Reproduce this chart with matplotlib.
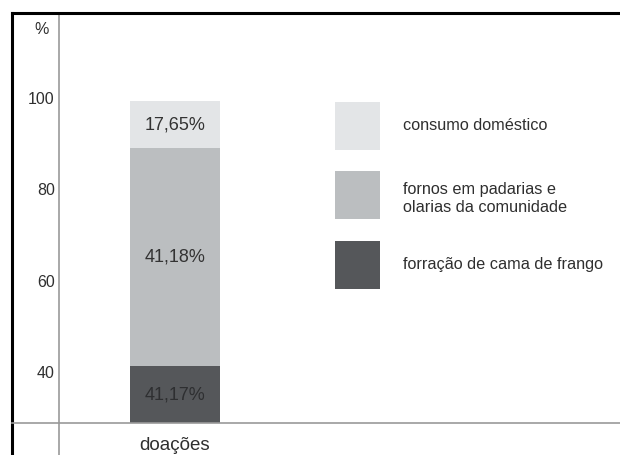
import matplotlib
matplotlib.use("Agg")
import matplotlib.pyplot as plt
from matplotlib.lines import Line2D
from matplotlib.patches import Rectangle

plt.rcParams['font.family'] = ['Liberation Sans', 'DejaVu Sans']

# ---- data ----
categories = ['doações']
series_names = ['forração de cama de frango',
                'fornos em padarias e\nolarias da comunidade',
                'consumo doméstico']
series_labels = ['41,17%', '41,18%', '17,65%']
axis_base = 28.8                     # where the x axis crosses the y scale
series_heights = [12.5, 47.7, 10.3]  # drawn heights
series_colors = ['#55575a', '#bbbec0', '#e3e5e7']
label_colors = ['#2e2f31', '#333333', '#333333']
y_ticks = [40, 60, 80, 100]

W, H = 620, 455
fig = plt.figure(figsize=(W / 100, H / 100), dpi=100)
fig.patch.set_facecolor('white')

ax_left, ax_top = 59, 13
ax = fig.add_axes([ax_left / W, 0, 1 - ax_left / W, (H - ax_top) / H])

px_per_unit = 274 / 60.0
ymax = 40 + (372 - ax_top) / px_per_unit
ymin = 40 - (H - 372) / px_per_unit
ax.set_ylim(ymin, ymax)
bar_px = 90
center_px = 175
ax.set_xlim(-(center_px - ax_left) / bar_px, (W - center_px) / bar_px)

txt = '#2f2f2f'

# stacked bar
bottom = axis_base
for h, c, lab, lc in zip(series_heights, series_colors, series_labels, label_colors):
    ax.bar(0, h, bottom=bottom, width=1.0, color=c, edgecolor='none', zorder=2)
    ax.text(0, bottom + h / 2, lab, ha='center', va='center', fontsize=13,
            color=lc, zorder=3)
    bottom += h

# axes styling
gray = '#9a9a9a'
for s in ['top', 'right']:
    ax.spines[s].set_visible(False)
ax.spines['left'].set_color(gray)
ax.spines['left'].set_linewidth(1.2)
ax.spines['bottom'].set_color(gray)
ax.spines['bottom'].set_linewidth(1.2)
ax.spines['bottom'].set_position(('data', axis_base))

ax.set_yticks(y_ticks)
ax.set_yticklabels([str(t) for t in y_ticks])
ax.set_xticks([0])
ax.set_xticklabels(categories)
ax.tick_params(axis='y', length=0, pad=3, labelsize=11.5, labelcolor=txt)
ax.tick_params(axis='x', length=0, pad=10, labelsize=13.5, labelcolor=txt)

ax.text(-0.019, 114.9, '%', transform=ax.get_yaxis_transform(), ha='right',
        va='center', fontsize=11.5, color=txt)

# legend (drawn as boxes + labels in figure pixels)
def fx(px):
    return px / W

def fy(py):
    return (H - py) / H

box_x, box_w, box_h = 335, 45, 48
box_tops = [101.7, 171, 241]
for top, name, col in zip(box_tops, series_names[::-1], series_colors[::-1]):
    fig.add_artist(Rectangle((fx(box_x), fy(top + box_h)), box_w / W, box_h / H,
                             transform=fig.transFigure, facecolor=col,
                             edgecolor='none'))
    lines = name.split('\n')
    cy = top + box_h / 2
    if len(lines) == 1:
        base = [cy + 4.5]
    else:
        base = [cy - 1, cy + 17]
    for ln, b in zip(lines, base):
        fig.text(fx(403), fy(b), ln, ha='left', va='baseline', fontsize=11.7,
                 color=txt)

# frame lines and axis extensions
fig.add_artist(Line2D([12 / W, 1], [(H - 13) / H] * 2, color='black', lw=2.2,
                      transform=fig.transFigure))
fig.add_artist(Line2D([12 / W] * 2, [0, (H - 13) / H], color='black', lw=2.2,
                      transform=fig.transFigure))
ya = (H - 423) / H
fig.add_artist(Line2D([12 / W, ax_left / W], [ya, ya], color=gray, lw=1.2,
                      transform=fig.transFigure))

fig.savefig('out.png', dpi=100, facecolor='white')
